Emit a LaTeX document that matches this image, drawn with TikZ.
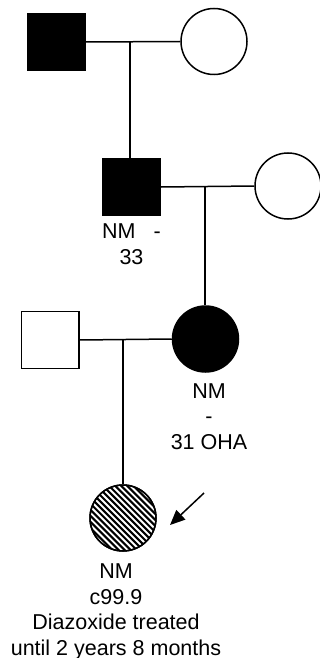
\documentclass[tikz,border=0pt]{standalone}
\usepackage{fontspec}
\setmainfont{Liberation Sans}
\usetikzlibrary{arrows.meta}
\begin{document}
\begin{tikzpicture}[x=1pt,y=-1pt,
  lw/.style={line width=1.5pt},
  male/.style={draw, lw, rectangle, minimum width=57.5pt, minimum height=57pt, inner sep=0pt},
  female/.style={draw, lw, circle, minimum size=66pt, inner sep=0pt},
  aff/.style={fill=black},
  lbl/.style={font=\fontsize{21.5}{25.7}\selectfont, align=center, anchor=base, inner sep=0pt},
  conn/.style={lw}]
\useasboundingbox (0,0) rectangle (320,658);
% generation I
\node[male,aff] (gf) at (56.5,42) {};
\node[female] (gm) at (214,41.5) {};
\coordinate (m1) at (130,42);
\draw[conn] (gf.east) -- (gm.west);
% generation II
\node[male,aff] (f) at (131.5,187) {};
\node[female] (fw) at (288,186) {};
\draw[conn] (m1) -- (m1 |- f.north);
\coordinate (m2) at (205,187);
\draw[conn] (f.east) -- (fw.west);
\node[lbl] (l2) at (131.5,264.5) {NM\hspace{18pt}-\\33};
% generation III
\node[male] (h) at (50,340) {};
\node[female,aff] (mo) at (205.5,339) {};
\draw[conn] (m2) -- (m2 |- mo.north);
\coordinate (m3) at (123,340);
\draw[conn] (h.east) -- (mo.west);
\node[lbl] (l3) at (209,449.5) {NM\\-\\31 OHA};
% proband
\node[female] (p) at (123,518) {};
\begin{scope}
  \clip (p.center) circle (33pt);
  \foreach \k in {-11,...,11}
    \draw[line width=2.1pt] ([shift={(\k*3.04-45,-\k*3.04-45)}]p.center) -- ++(90,90);
\end{scope}
\draw[lw] (p.center) circle (33pt);
\draw[conn] (m3) -- (m3 |- p.north);
\node[lbl] (l4) at (116,655.5) {NM\\c99.9\\Diazoxide treated\\until 2 years 8 months};
% arrow
\coordinate (a1) at (204,493);
\coordinate (a2) at (170,525);
\draw[lw,-{Triangle[length=15pt,width=13pt]}] (a1) -- (a2);
\end{tikzpicture}
\end{document}
